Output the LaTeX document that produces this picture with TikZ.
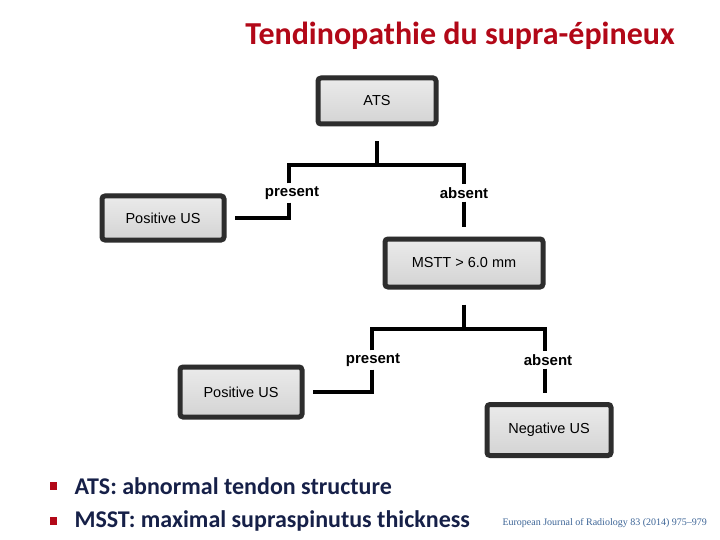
\documentclass[tikz,border=0pt]{standalone}
\usepackage{fontspec}
\setmainfont{Liberation Sans}
\newfontfamily\titlefont{Carlito}
\newfontfamily\citefont{Liberation Serif}
\usetikzlibrary{shadows}
\definecolor{titlered}{RGB}{178,8,24}
\definecolor{notenavy}{RGB}{22,32,72}
\definecolor{citeblue}{RGB}{60,100,150}
\definecolor{framegray}{RGB}{45,45,45}
\tikzset{usbox/.style={rectangle,rounded corners=3pt,draw=framegray,line width=5pt,
    top color=gray!16,bottom color=gray!34,font=\fontsize{14.5}{17}\selectfont,
    drop shadow={shadow xshift=1.5pt,shadow yshift=2.5pt,opacity=.3}},
  branch/.style={font=\bfseries\fontsize{15}{18}\selectfont,inner sep=3pt},
  link/.style={line width=4pt,draw=black}}
\begin{document}
\begin{tikzpicture}[x=1pt,y=-1pt]
  \path[use as bounding box] (0,0) rectangle (720,540);
  \node[font=\titlefont\bfseries\fontsize{32}{36}\selectfont,text=titlered] (title) at (460,36) {Tendinopathie du supra-épineux};
  % first split
  \node[usbox,minimum width=118pt,minimum height=46pt] (ats) at (377,101) {ATS};
  \node[usbox,minimum width=122pt,minimum height=44pt] (posA) at (163,218) {Positive US};
  \node[usbox,minimum width=158pt,minimum height=48pt] (mstt) at (464,263) {MSTT > 6.0 mm};
  \node[branch] (presA) at (292,193) {present};
  \node[branch] (absA) at (464,193) {absent};
  \coordinate (forkA) at (377,165);
  \draw[link,shorten <=15pt] (ats.south) -- (forkA);
  \draw[link] (presA.north -| 289,0) |- (forkA) -| (absA.north);
  \draw[link,shorten >=8pt] (presA.south -| 289,0) |- (posA.east);
  \draw[link,shorten >=9pt] (absA.south) -- (mstt.north);
  % second split
  \node[usbox,minimum width=122pt,minimum height=50pt] (posB) at (241,392) {Positive US};
  \node[usbox,minimum width=124pt,minimum height=51pt] (negB) at (549,430) {Negative US};
  \node[branch] (presB) at (373,360) {present};
  \node[branch] (absB) at (548,360) {absent};
  \coordinate (forkB) at (464,329);
  \draw[link,shorten <=15pt] (mstt.south) -- (forkB);
  \draw[link] (presB.north -| 372,0) |- (forkB) -| (absB.north -| 545,0);
  \draw[link,shorten >=8pt] (presB.south -| 372,0) |- (posB.east);
  \draw[link,shorten >=9pt] (absB.south -| 545,0) -- (negB.north -| 545,0);
  % notes
  \fill[titlered] (50,482) rectangle (57,490);
  \fill[titlered] (50,517) rectangle (57,525);
  \node[anchor=west,font=\titlefont\bfseries\fontsize{24}{28}\selectfont,text=notenavy] (noteA) at (71,486) {ATS: abnormal tendon structure};
  \node[anchor=west,font=\titlefont\bfseries\fontsize{24}{28}\selectfont,text=notenavy] (noteB) at (71,521) {MSST: maximal supraspinutus thickness};
  \node[anchor=west,font=\citefont\fontsize{10}{12}\selectfont,text=citeblue] (cite) at (499,523) {European Journal of Radiology 83 (2014) 975–979};
\end{tikzpicture}
\end{document}
